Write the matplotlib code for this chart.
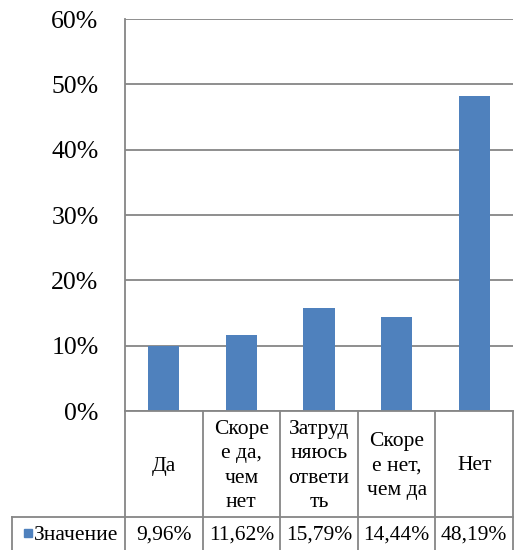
import matplotlib
matplotlib.use("Agg")
import matplotlib.pyplot as plt
from matplotlib.lines import Line2D

categories = ["Да", "Скоре\nе да,\nчем\nнет", "Затруд\nняюсь\nответи\nть", "Скоре\nе нет,\nчем да", "Нет"]
values = [9.96, 11.62, 15.79, 14.44, 48.19]
value_labels = ["9,96%", "11,62%", "15,79%", "14,44%", "48,19%"]
series_name = "Значение"
yticks = [0, 10, 20, 30, 40, 50, 60]

W, H = 518, 550
plt.rcParams['font.family'] = ['Liberation Serif', 'DejaVu Serif']
fig = plt.figure(figsize=(W / 100, H / 100), dpi=100)

L, R, T, B = 125, 513, 19, 411
ax = fig.add_axes([L / W, 1 - B / H, (R - L) / W, (B - T) / H])
bar_color = "#4F81BD"
grid_color = "#868686"
ax.bar(range(len(values)), values, width=0.4, color=bar_color, zorder=3)
ax.set_xlim(-0.5, len(values) - 0.5)
ax.set_ylim(0, 60)
ax.set_yticks(yticks)
ax.set_yticklabels([f"{t}%" for t in yticks], fontsize=18.5)
ax.tick_params(axis='y', length=0, pad=19)
ax.set_xticks([])
ax.grid(axis='y', color=grid_color, linewidth=1.3, zorder=0)
for s in ['top', 'right', 'bottom']:
    ax.spines[s].set_visible(False)
ax.spines['left'].set_color(grid_color)
ax.spines['left'].set_linewidth(1.3)

# data table below the axes (figure pixel coordinates)
def fx(px):
    return px / W

def fy(py):
    return 1 - py / H

n = len(values)
col_edges = [L + (R - L) * i / n for i in range(n + 1)]
row1_bottom = 517
left_edge = 12

lines = []
lines.append(((L, R), (B, B)))
lines.append(((left_edge, R), (row1_bottom, row1_bottom)))
for x in col_edges:
    lines.append(((x, x), (B, H)))
lines.append(((left_edge, left_edge), (row1_bottom, H)))
for (xs, ys) in lines:
    fig.add_artist(Line2D([fx(xs[0]), fx(xs[1])], [fy(ys[0]), fy(ys[1])],
                          color=grid_color, linewidth=1.3))

fs = 15.5
for i, (cat, vl) in enumerate(zip(categories, value_labels)):
    cx = (col_edges[i] + col_edges[i + 1]) / 2
    fig.text(fx(cx), fy(466), cat, ha='center', va='center', fontsize=fs,
             linespacing=1.38)
    fig.text(fx(cx), fy(535), vl, ha='center', va='center', fontsize=fs)

# legend key in the table
fig.add_artist(plt.Rectangle((fx(24), fy(537)), 8 / W, 8 / H, color=bar_color,
                             transform=fig.transFigure))
fig.text(fx(34), fy(535), series_name, ha='left', va='center', fontsize=fs)

fig.savefig("out.png", dpi=100)
